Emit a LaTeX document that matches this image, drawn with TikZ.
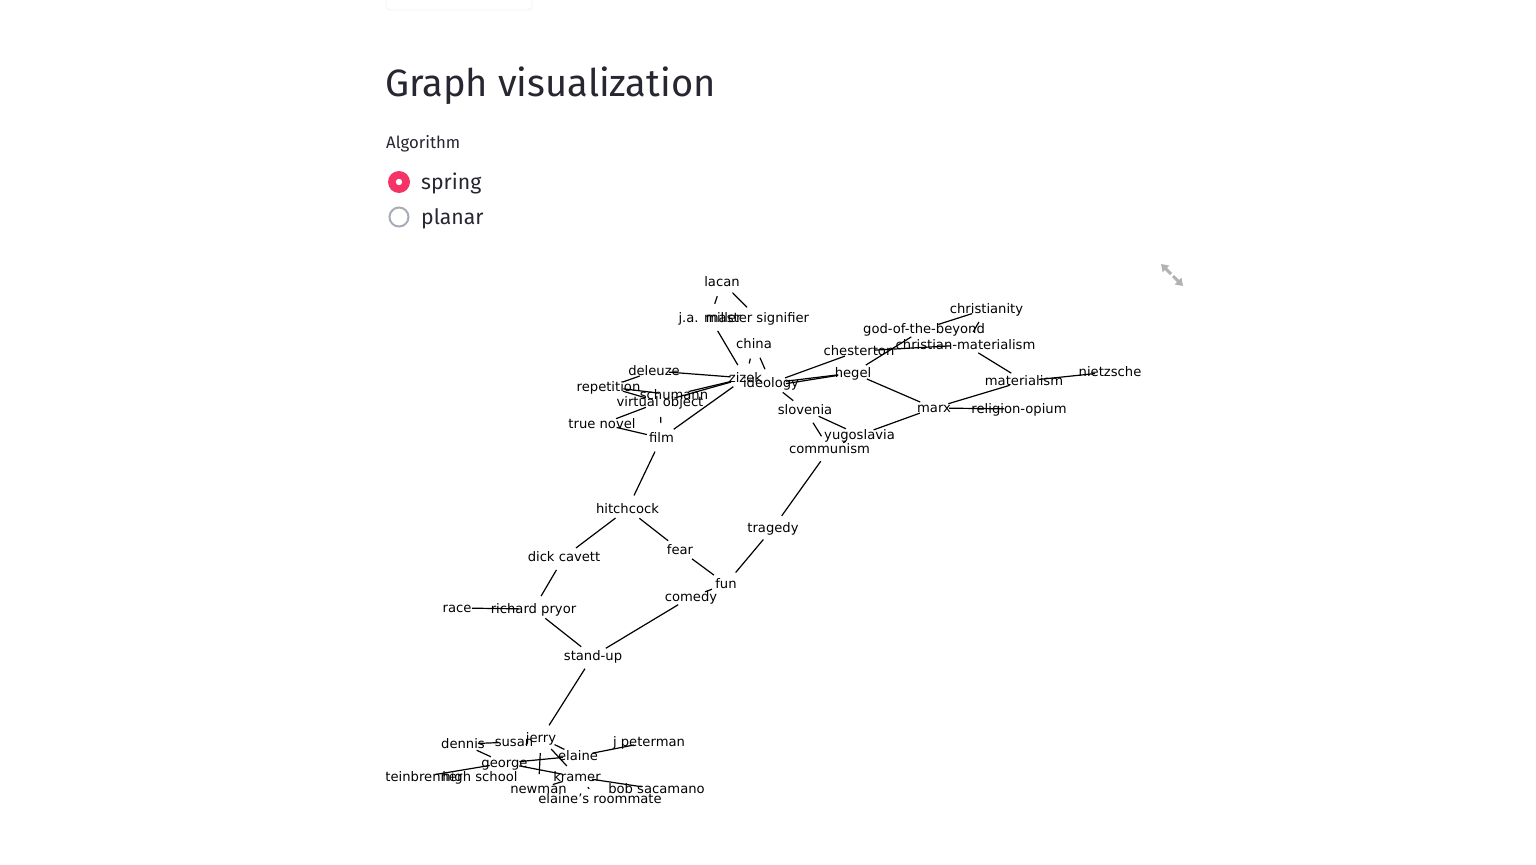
\documentclass[tikz,border=0pt]{standalone}
\usepackage{fontspec}
\setmainfont{DejaVu Sans}
\newfontfamily\uifont{Fira Sans}
\usetikzlibrary{arrows.meta}
\definecolor{uiText}{RGB}{38,39,48}
\definecolor{uiRed}{RGB}{246,51,102}
\definecolor{uiGray}{RGB}{168,172,184}
\definecolor{uiBorder}{RGB}{228,231,238}
\definecolor{uiIcon}{RGB}{178,178,178}
\begin{document}
\begin{tikzpicture}[x=1bp, y=-1bp, font=\fontsize{13.2}{15}\selectfont,
    lbl/.style={inner sep=0pt, text height=11.4bp, text depth=1.6bp},
    edge/.style={line width=1.2bp, shorten <=15bp, shorten >=15bp}]
    \useasboundingbox[fill=white] (0,0) rectangle (1536,864);

    % Page header
    \draw[uiBorder, rounded corners=4bp] (386,-6) rectangle (532,10);
    \node[anchor=base west, inner sep=0pt, text=uiText, font=\uifont\fontsize{38.2}{44}\selectfont] (title) at (385,96) {Graph visualization};
    \node[anchor=base west, inner sep=0pt, text=uiText, font=\uifont\fontsize{16.8}{20}\selectfont] (algo) at (386,148) {Algorithm};
    \fill[uiRed] (399,182) circle (11bp);
    \fill[white] (399,182) circle (3.2bp);
    \draw[uiGray, line width=2bp] (399,217) circle (9.5bp);
    \node[anchor=base west, inner sep=0pt, text=uiText, font=\uifont\fontsize{21.3}{25}\selectfont] (spring) at (421,189) {spring};
    \node[anchor=base west, inner sep=0pt, text=uiText, font=\uifont\fontsize{21.3}{25}\selectfont] (planar) at (421,224) {planar};

    % Expand icon
    \draw[uiIcon, line width=3bp, -{Triangle[length=7bp, width=9bp]}] (1171,274) -- (1161,264);
    \draw[uiIcon, line width=3bp, -{Triangle[length=7bp, width=9bp]}] (1173,276) -- (1183,286);

    \begin{scope}
    \clip (386,255) rectangle (1190,830);
    % Zizek / theory cluster
    \node[lbl] (lacan) at (722,282) {lacan};
    \node[lbl] (jam) at (710,318) {j.a. miller};
    \node[lbl] (mastersig) at (757.5,318) {master signifier};
    \node[lbl] (china) at (754,344) {china};
    \node[lbl] (zizek) at (745.5,378) {zizek};
    \node[lbl] (ideology) at (771,383) {ideology};
    \node[lbl] (deleuze) at (654,371) {deleuze};
    \node[lbl] (repetition) at (608.5,387) {repetition};
    \node[lbl] (schumann) at (674,395) {schumann};
    \node[lbl] (virtual) at (660,402) {virtual object};
    \node[lbl] (truenovel) at (602,424) {true novel};
    \node[lbl] (film) at (661.5,438) {film};
    \node[lbl] (slovenia) at (805,410) {slovenia};
    \node[lbl] (christianity) at (986.5,309) {christianity};
    \node[lbl] (god) at (924,329) {god-of-the-beyond};
    \node[lbl] (chesterton) at (859,351) {chesterton};
    \node[lbl] (christmat) at (965.5,345) {christian-materialism};
    \node[lbl] (hegel) at (853,373) {hegel};
    \node[lbl] (materialism) at (1024,381) {materialism};
    \node[lbl] (nietzsche) at (1110,372) {nietzsche};
    \node[lbl] (marx) at (934,408) {marx};
    \node[lbl] (religion) at (1019,409) {religion-opium};
    \node[lbl] (yugoslavia) at (859.5,435) {yugoslavia};
    \node[lbl] (communism) at (829.5,449) {communism};

    % Film / comedy chain
    \node[lbl] (hitchcock) at (627.5,509) {hitchcock};
    \node[lbl] (tragedy) at (773,528) {tragedy};
    \node[lbl] (dickcavett) at (564,557) {dick cavett};
    \node[lbl] (fear) at (680,550) {fear};
    \node[lbl] (fun) at (726,584) {fun};
    \node[lbl] (comedy) at (691,597) {comedy};
    \node[lbl] (race) at (457,608) {race};
    \node[lbl] (pryor) at (533.5,609) {richard pryor};
    \node[lbl] (standup) at (593,656) {stand-up};

    % Seinfeld cluster
    \node[lbl] (jerry) at (541,738) {jerry};
    \node[lbl] (susan) at (514,742) {susan};
    \node[lbl] (dennis) at (463,744) {dennis};
    \node[lbl] (jpeterman) at (649,742) {j peterman};
    \node[lbl] (elaine) at (578,756) {elaine};
    \node[lbl] (george) at (504.5,763) {george};
    \node[lbl] (steinbrenner) at (420.5,777) {steinbrenner};
    \node[lbl] (highschool) at (480,777) {high school};
    \node[lbl] (kramer) at (577,777) {kramer};
    \node[lbl] (newman) at (538.5,789) {newman};
    \node[lbl] (bob) at (656.5,789) {bob sacamano};
    \node[lbl] (roommate) at (600,799) {elaine's roommate};
    \end{scope}

    % Edges
    \foreach \a/\b in {lacan/jam, lacan/mastersig, jam/zizek, china/zizek, china/ideology,
        deleuze/zizek, schumann/zizek, virtual/zizek, film/zizek,
        ideology/chesterton, ideology/hegel, ideology/slovenia,
        deleuze/repetition, repetition/schumann, repetition/virtual, virtual/truenovel,
        truenovel/film, virtual/film, hegel/god, hegel/marx, chesterton/christmat,
        god/christianity, christianity/christmat, christmat/materialism,
        materialism/nietzsche, materialism/marx, marx/religion, marx/yugoslavia,
        slovenia/yugoslavia, slovenia/communism, yugoslavia/communism,
        communism/tragedy, tragedy/fun, fun/fear, fun/comedy, fear/hitchcock,
        hitchcock/film, hitchcock/dickcavett, dickcavett/pryor, race/pryor,
        pryor/standup, comedy/standup, standup/jerry,
        jerry/elaine, jerry/kramer, jerry/newman, dennis/susan, dennis/george,
        george/elaine, george/kramer, steinbrenner/george, elaine/jpeterman,
        kramer/bob, kramer/newman, kramer/roommate}
        \draw[edge] (\a.center) -- (\b.center);
    \draw[edge] ([yshift=-3bp]ideology.center) -- (hegel.center);
\end{tikzpicture}
\end{document}
